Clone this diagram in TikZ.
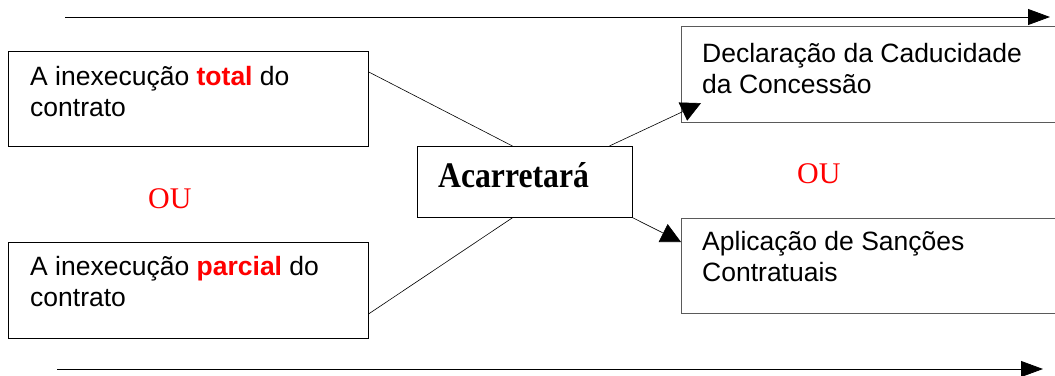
\documentclass[tikz,border=0pt]{standalone}
\usepackage{fontspec}
\setmainfont{Liberation Serif}
\newfontfamily\arialfont{Liberation Sans}
\usepackage{xcolor}
\usetikzlibrary{arrows.meta}

\tikzset{
  box/.style={draw, line width=0.8pt, anchor=north west, inner sep=0pt},
  rbox/.style={box, draw={rgb,255:red,90;green,90;blue,90}, line width=1.1pt},
  txt/.style={anchor=base west, align=left, inner sep=0pt,
    font=\arialfont\fontsize{26.5pt}{30.5pt}\selectfont},
  ou/.style={anchor=base west, inner sep=0pt, text=red,
    font=\fontsize{30pt}{36pt}\selectfont},
  longarrow/.style={line width=0.8pt, -{Triangle[length=22pt,width=16pt]}},
  tip/.style={line width=0.6pt, -{Triangle[length=20pt,width=20pt]}}
}

\begin{document}
\begin{tikzpicture}[x=1pt,y=-1pt]
    \useasboundingbox (0,0) rectangle (1055,375);
    % caixas
    \node[box, minimum width=360pt, minimum height=95pt] (total) at (8,51) {};
    \node[box, minimum width=360pt, minimum height=96pt] (parcial) at (8,242) {};
    \node[box, minimum width=215pt, minimum height=71pt] (acarreta) at (417,146) {};
    \node[rbox, minimum width=385pt, minimum height=96pt] (caducidade) at (681,26) {};
    \node[rbox, minimum width=385pt, minimum height=95pt] (sancoes) at (681,218) {};
    % textos (base = ultima linha)
    \node[txt] (totaltxt) at ([shift={(22pt,-65pt)}]total.north west)
      {A inexecução \textcolor{red}{\bfseries total} do\\contrato};
    \node[txt] (parcialtxt) at ([shift={(22pt,-64pt)}]parcial.north west)
      {A inexecução \textcolor{red}{\bfseries parcial} do\\contrato};
    \node[txt] (caducidadetxt) at ([shift={(21pt,-67pt)}]caducidade.north west)
      {Declaração da Caducidade\\da Concessão};
    \node[txt] (sancoestxt) at ([shift={(21pt,-63pt)}]sancoes.north west)
      {Aplicação de Sanções\\Contratuais};
    \node[anchor=base west, inner sep=0pt, font=\bfseries\fontsize{36pt}{40pt}\selectfont]
      (acarretatxt) at ([shift={(21pt,-41pt)}]acarreta.north west)
      {\scalebox{0.88}[1]{Acarretará}};
    \node[ou] (ouesq) at (148,208) {OU};
    \node[ou] (oudir) at (797,183) {OU};
    % ligacoes
    \draw[line width=0.6pt] ([yshift=-21pt]total.north east) -- ([xshift=-12.5pt]acarreta.north);
    \draw[line width=0.6pt] ([yshift=25pt]parcial.south east) -- ([xshift=-12.5pt]acarreta.south);
    \draw[tip] ([xshift=84.5pt]acarreta.north) -- ([shift={(20pt,20pt)}]caducidade.south west);
    \draw[tip] (acarreta.south east) -- ([yshift=-24pt]sancoes.north west);
    % setas longas
    \coordinate (inicio1) at (65,17);
    \coordinate (fim1) at (1050,17);
    \coordinate (inicio2) at (57,369);
    \coordinate (fim2) at (1043,369);
    \draw[longarrow] (inicio1) -- (fim1);
    \draw[longarrow] (inicio2) -- (fim2);
\end{tikzpicture}
\end{document}
